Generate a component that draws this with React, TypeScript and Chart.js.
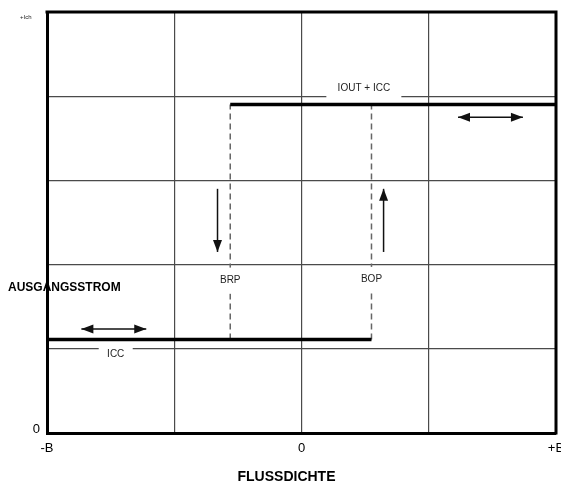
import React, { useEffect, useRef } from "react";
import { Chart, registerables } from "chart.js";

Chart.register(...registerables);

// ---- data (in axis units) ----
const X_MIN = -2;
const X_MAX = 2;
const Y_MIN = 0;
const Y_MAX = 5;
const xTickLabels: Record<string, string> = { "-2": "-B", "0": "0", "2": "+B" };
const yTickLabels: Record<string, string> = { "0": "0" };

const LOW = 1.11; // ICC
const HIGH = 3.9; // IOUT + ICC
const BRP = -0.56;
const BOP = 0.55;

const lowerSeries = [
  { x: X_MIN, y: LOW },
  { x: BOP, y: LOW },
];
const upperSeries = [
  { x: BRP, y: HIGH },
  { x: X_MAX, y: HIGH },
];
const brpSeries = [
  { x: BRP, y: LOW },
  { x: BRP, y: HIGH },
];
const bopSeries = [
  { x: BOP, y: LOW },
  { x: BOP, y: HIGH },
];

const labelTexts = ["IOUT + ICC", "ICC", "BRP", "BOP"];
const labelX = [0.49, -1.46, BRP, BOP];
const labelY = [4.1, 0.93, 1.81, 1.83];
const labelBoxW = [75, 34, 30, 30];
const labelBoxH = [26, 14, 26, 24];

const arrowX1 = [-0.66, 0.645, 1.23, -1.73];
const arrowY1 = [2.9, 2.15, 3.75, 1.235];
const arrowX2 = [-0.66, 0.645, 1.74, -1.22];
const arrowY2 = [2.15, 2.9, 3.75, 1.235];
const arrowDouble = [false, false, true, true];

const FONT = "'Liberation Sans', Arial, Helvetica, sans-serif";

function head(ctx: CanvasRenderingContext2D, fx: number, fy: number, tx: number, ty: number) {
  const ang = Math.atan2(ty - fy, tx - fx);
  const len = 12;
  const hw = 4.5;
  ctx.beginPath();
  ctx.moveTo(tx, ty);
  ctx.lineTo(tx - len * Math.cos(ang) + hw * Math.sin(ang), ty - len * Math.sin(ang) - hw * Math.cos(ang));
  ctx.lineTo(tx - len * Math.cos(ang) - hw * Math.sin(ang), ty - len * Math.sin(ang) + hw * Math.cos(ang));
  ctx.closePath();
  ctx.fill();
}

const annotPlugin = {
  id: "annot",
  afterDatasetsDraw(chart: any) {
    const ctx: CanvasRenderingContext2D = chart.ctx;
    const xs = chart.scales.x;
    const ys = chart.scales.y;
    ctx.save();
    // labels with white boxes
    ctx.font = `10px ${FONT}`;
    ctx.textAlign = "center";
    ctx.textBaseline = "middle";
    labelTexts.forEach((t, i) => {
      const px = xs.getPixelForValue(labelX[i]);
      const py = ys.getPixelForValue(labelY[i]);
      ctx.fillStyle = "#fff";
      ctx.fillRect(px - labelBoxW[i] / 2, py - labelBoxH[i] / 2, labelBoxW[i], labelBoxH[i]);
      ctx.fillStyle = "#222";
      ctx.fillText(t, px, py);
    });
    // arrows
    ctx.strokeStyle = "#111";
    ctx.fillStyle = "#111";
    ctx.lineWidth = 1.5;
    arrowX1.forEach((_, i) => {
      const x1 = xs.getPixelForValue(arrowX1[i]);
      const y1 = ys.getPixelForValue(arrowY1[i]);
      const x2 = xs.getPixelForValue(arrowX2[i]);
      const y2 = ys.getPixelForValue(arrowY2[i]);
      ctx.beginPath();
      ctx.moveTo(x1, y1);
      ctx.lineTo(x2, y2);
      ctx.stroke();
      head(ctx, x1, y1, x2, y2);
      if (arrowDouble[i]) head(ctx, x2, y2, x1, y1);
    });
    ctx.restore();
  },
  afterDraw(chart: any) {
    const ctx: CanvasRenderingContext2D = chart.ctx;
    const a = chart.chartArea;
    ctx.save();
    ctx.strokeStyle = "#000";
    ctx.lineWidth = 3;
    ctx.beginPath();
    ctx.moveTo(a.left - 1.5, a.top);
    ctx.lineTo(a.right, a.top);
    ctx.lineTo(a.right, a.bottom + 1.5);
    ctx.stroke();
    ctx.fillStyle = "#000";
    ctx.textBaseline = "middle";
    ctx.textAlign = "center";
    ctx.font = `bold 14px ${FONT}`;
    ctx.fillText("FLUSSDICHTE", 286.5, 477);
    ctx.textAlign = "left";
    ctx.font = `bold 12px ${FONT}`;
    ctx.fillText("AUSGANGSSTROM", 8, 288);
    ctx.font = `6px ${FONT}`;
    ctx.fillStyle = "#222";
    ctx.fillText("+Ich", 20, 17);
    ctx.restore();
  },
};

export default function App() {
  const ref = useRef<HTMLCanvasElement | null>(null);
  useEffect(() => {
    if (!ref.current) return;
    const thick = { borderColor: "#000", borderWidth: 3.5, pointRadius: 0, fill: false, tension: 0 };
    const dashed = {
      borderColor: "#666",
      borderWidth: 1.5,
      borderDash: [6, 4],
      pointRadius: 0,
      fill: false,
      tension: 0,
    };
    const chart = new Chart(ref.current, {
      type: "line",
      data: {
        datasets: [
          { label: "ICC", data: lowerSeries, ...thick },
          { label: "IOUT + ICC", data: upperSeries, ...thick },
          { label: "BRP", data: brpSeries, ...dashed },
          { label: "BOP", data: bopSeries, ...dashed },
        ] as any,
      },
      options: {
        responsive: false,
        animation: false,
        layout: { padding: { top: 12, right: 5, left: 0, bottom: 0 } },
        plugins: { legend: { display: false }, tooltip: { enabled: false } },
        scales: {
          x: {
            type: "linear",
            min: X_MIN,
            max: X_MAX,
            ticks: {
              stepSize: 1,
              autoSkip: false,
              maxRotation: 0,
              padding: 8,
              color: "#000",
              font: { size: 13, family: FONT },
              callback: (v: any) => xTickLabels[String(v)] ?? "",
            },
            grid: { color: "#4a4a4a", lineWidth: 1.2, drawTicks: false },
            border: { color: "#000", width: 3 },
            afterFit: (s: any) => {
              s.height = 52;
              s.paddingLeft = 0;
              s.paddingRight = 0;
            },
          },
          y: {
            type: "linear",
            min: Y_MIN,
            max: Y_MAX,
            ticks: {
              stepSize: 1,
              autoSkip: false,
              padding: 7,
              labelOffset: -4,
              color: "#000",
              font: { size: 13, family: FONT },
              callback: (v: any) => yTickLabels[String(v)] ?? "",
            },
            grid: { color: "#4a4a4a", lineWidth: 1.2, drawTicks: false },
            border: { color: "#000", width: 3 },
            afterFit: (s: any) => {
              s.width = 47;
              s.paddingTop = 0;
              s.paddingBottom = 0;
            },
          },
        },
      } as any,
      plugins: [annotPlugin],
    });
    return () => chart.destroy();
  }, []);
  return (
    <div style={{ position: "absolute", left: 0, top: 0, width: 561, height: 485, background: "#fff" }}>
      <canvas ref={ref} width={561} height={485} style={{ width: 561, height: 485, display: "block" }} />
    </div>
  );
}
